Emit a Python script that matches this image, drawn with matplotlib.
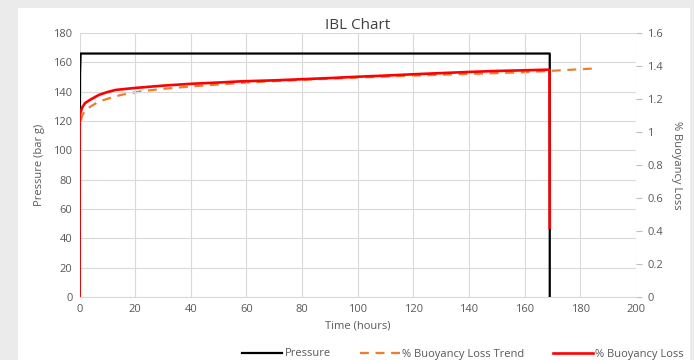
import matplotlib.pyplot as plt
from matplotlib.patches import Rectangle

plt.rcParams['font.family'] = ['Open Sans', 'DejaVu Sans']

# pressure (bar g) vs time (hours)
p_time = [0.0, 0.2, 0.4, 169.0, 169.0]
p_val = [0.0, 152.0, 166.0, 166.0, 0.0]

# % buoyancy loss vs time (hours)
bl_time = [0.0, 0.05, 0.5, 1, 2, 4, 7, 10, 13, 20, 30, 40, 50, 58, 70, 80, 90, 100,
           110, 120, 130, 140, 150, 160, 168.9, 169.0]
bl_val = [0.0, 1.10, 1.125, 1.15, 1.175, 1.197, 1.225, 1.242, 1.255, 1.267, 1.281, 1.292,
          1.300, 1.307, 1.313, 1.320, 1.327, 1.335, 1.342, 1.350, 1.357, 1.364, 1.370,
          1.374, 1.378, 0.42]

# log trend line of % buoyancy loss
tr_time = [0.5, 1, 2, 4, 7, 11, 15, 22, 29, 40, 60, 80, 100, 120, 140, 160, 185]
tr_val = [1.07, 1.10, 1.13, 1.155, 1.185, 1.206, 1.225, 1.246, 1.260, 1.276, 1.300,
          1.316, 1.330, 1.342, 1.352, 1.362, 1.385]

grey = '#595959'
fig = plt.figure(figsize=(6.94, 3.6), dpi=100, facecolor='#ebebeb')
fig.patches.append(Rectangle((18 / 694, 0), 672 / 694, 352 / 360, transform=fig.transFigure,
                             facecolor='white', edgecolor='none', zorder=-10))

ax = fig.add_axes([79.5 / 694, 63 / 360, 556.5 / 694, 264 / 360])
ax2 = ax.twinx()
ax.set_zorder(ax2.get_zorder() + 1)
ax.patch.set_visible(False)

l1, = ax.plot(p_time, p_val, color='black', lw=1.6, label='Pressure', zorder=3)
l2, = ax2.plot(tr_time, tr_val, color='#ed7d31', lw=1.6, ls=(0, (4, 3)),
               label='% Buoyancy Loss Trend')
l3, = ax.plot(bl_time, [v * 180 / 1.6 for v in bl_val], color='#ff0000',
              lw=1.9, label='% Buoyancy Loss', zorder=4)

ax.set_xlim(0, 200)
ax.set_ylim(0, 180)
ax2.set_ylim(0, 1.6)
ax.set_xticks(range(0, 201, 20))
ax.set_yticks(range(0, 181, 20))
ax2.set_yticks([0, 0.2, 0.4, 0.6, 0.8, 1.0, 1.2, 1.4, 1.6])
ax2.set_yticklabels(['0', '0.2', '0.4', '0.6', '0.8', '1', '1.2', '1.4', '1.6'])

ax.grid(True, color='#d9d9d9', lw=0.8)
ax.set_axisbelow(True)
for a in (ax, ax2):
    for s in a.spines.values():
        s.set_visible(False)
ax.spines['bottom'].set_visible(True)
ax.spines['bottom'].set_color('#d9d9d9')
ax.tick_params(axis='both', length=0, labelsize=8, labelcolor=grey, pad=5)
ax2.tick_params(axis='y', length=4, color='#bfbfbf', labelsize=8, labelcolor=grey, pad=4)

ax.set_title('IBL Chart', fontsize=11, color='#404040', pad=2)
ax.set_xlabel('Time (hours)', fontsize=8, color=grey, labelpad=4)
ax.set_ylabel('Pressure (bar g)', fontsize=8, color=grey, labelpad=6)
ax2.set_ylabel('% Buoyancy Loss', fontsize=8, color=grey, rotation=270, labelpad=14)

fig.legend(handles=[l1, l2, l3], loc='center', bbox_to_anchor=(463 / 694, 1 - 354 / 360),
           ncol=3, frameon=False, fontsize=8, labelcolor=grey, handlelength=3.6,
           handletextpad=0.2, columnspacing=2.6)

fig.savefig('out.png', dpi=100, facecolor=fig.get_facecolor())
